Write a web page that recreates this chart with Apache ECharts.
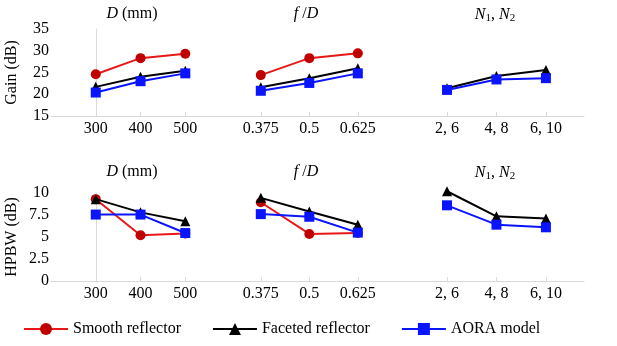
<!DOCTYPE html>
<html><head><meta charset="utf-8">
<script src="https://cdn.jsdelivr.net/npm/echarts@6/dist/echarts.min.js"></script>
<style>html,body{margin:0;padding:0;background:#fff}#c{width:617px;height:346px}</style>
</head><body><div id="c"></div>
<script>
// ---- data ----
const catD = ['300', '400', '500'];
const catFD = ['0.375', '0.5', '0.625'];
const catN = ['2, 6', '4, 8', '6, 10'];

const gainSmoothD = [24.6, 28.3, 29.3];
const gainFacetedD = [21.7, 24.0, 25.4];
const gainAoraD = [20.4, 23.0, 24.8];
const gainSmoothFD = [24.4, 28.3, 29.4];
const gainFacetedFD = [21.6, 23.7, 26.0];
const gainAoraFD = [20.8, 22.6, 24.8];
const gainFacetedN = [21.4, 24.2, 25.6];
const gainAoraN = [21.0, 23.4, 23.7];

const hpbwSmoothD = [9.3, 5.2, 5.4];
const hpbwFacetedD = [9.3, 7.8, 6.8];
const hpbwAoraD = [7.55, 7.55, 5.45];
const hpbwSmoothFD = [8.95, 5.35, 5.45];
const hpbwFacetedFD = [9.45, 7.9, 6.4];
const hpbwAoraFD = [7.6, 7.3, 5.5];
const hpbwFacetedN = [10.2, 7.35, 7.1];
const hpbwAoraN = [8.6, 6.4, 6.1];

const gainTicks = [15, 20, 25, 30, 35];
const hpbwTicks = [0, 2.5, 5, 7.5, 10];

const names = ['Smooth reflector', 'Faceted reflector', 'AORA model'];
// ---------------

const FONT = 'Liberation Serif';
const FS = 16;
const axisGrey = '#d9d9d9';
const chart = echarts.init(document.getElementById('c'));

const cols = [
  {left: 51, right: 617 - 222, min: -1.0, max: 2.82, cats: catD},
  {left: 222, right: 617 - 400, min: -0.80, max: 2.87, cats: catFD},
  {left: 400, right: 617 - 584, min: -0.95, max: 2.77, cats: catN}
];
const rows = [
  {top: 29, height: 87, min: 15, max: 35, interval: 5, name: 'Gain (dB)', ticks: gainTicks},
  {top: 193, height: 88, min: 0, max: 10, interval: 2.5, name: 'HPBW (dB)', ticks: hpbwTicks}
];

const grids = [], xAxes = [], yAxes = [];
rows.forEach((r, ri) => {
  cols.forEach((c, ci) => {
    grids.push({left: c.left, right: c.right, top: r.top, height: r.height});
    const cats = c.cats;
    xAxes.push({
      type: 'value', gridIndex: grids.length - 1, min: c.min, max: c.max,
      axisLine: {show: true, lineStyle: {color: axisGrey, width: 1}},
      axisTick: {show: true, customValues: [0, 1, 2], length: 4, inside: true, lineStyle: {color: axisGrey}},
      axisLabel: {customValues: [0, 1, 2], formatter: v => cats[Math.round(v)], color: '#000',
        fontFamily: FONT, fontSize: FS, margin: 5},
      splitLine: {show: false}
    });
    yAxes.push({
      type: 'value', gridIndex: grids.length - 1, min: r.min, max: r.max, interval: r.interval,
      show: ci === 0,
      name: ci === 0 ? r.name : '', nameLocation: 'middle', nameGap: 31,
      nameTextStyle: {fontFamily: FONT, fontSize: FS, color: '#000'},
      axisLine: {show: true, lineStyle: {color: axisGrey}},
      axisTick: {show: false},
      axisLabel: {color: '#000', fontFamily: FONT, fontSize: FS, margin: 2,
        customValues: r.ticks},
      splitLine: {show: false}
    });
  });
});

const styles = [
  {symbol: 'circle', symbolSize: 10, line: '#e81818', item: '#c00000'},
  {symbol: 'triangle', symbolSize: 10, line: '#000000', item: '#000000'},
  {symbol: 'rect', symbolSize: 10, line: '#0a14ff', item: '#0a14ff'}
];
const panels = [
  [gainSmoothD, gainFacetedD, gainAoraD],
  [gainSmoothFD, gainFacetedFD, gainAoraFD],
  [null, gainFacetedN, gainAoraN],
  [hpbwSmoothD, hpbwFacetedD, hpbwAoraD],
  [hpbwSmoothFD, hpbwFacetedFD, hpbwAoraFD],
  [null, hpbwFacetedN, hpbwAoraN]
];
const series = [];
panels.forEach((p, pi) => {
  p.forEach((vals, si) => {
    if (!vals) return;
    const s = styles[si];
    series.push({
      type: 'line', name: names[si], xAxisIndex: pi, yAxisIndex: pi,
      data: vals.map((v, i) => [i, v]),
      symbol: s.symbol, symbolSize: s.symbolSize, showSymbol: true, clip: false,
      lineStyle: {color: s.line, width: 2},
      itemStyle: {color: s.item},
      z: 2 + si, animation: false
    });
  });
});

const rich = {
  i: {fontStyle: 'italic', fontFamily: FONT, fontSize: FS, color: '#000'},
  n: {fontFamily: FONT, fontSize: FS, color: '#000'},
  s: {fontFamily: FONT, fontSize: 11, color: '#000', verticalAlign: 'bottom', padding: [7, 0, 0, 0]}
};
const titleTexts = ['{i|D}{n| (mm)}', '{i|f}{n| /}{i|D}', '{i|N}{s|1}{n|, }{i|N}{s|2}'];
const titleX = [132, 306, 495];
const titleY = [6, 164];
const titles = [];
titleY.forEach(y => titleTexts.forEach((t, i) => {
  titles.push({text: t, left: titleX[i], top: y, textAlign: 'center', padding: 0,
    textStyle: {rich: rich, fontFamily: FONT, fontSize: FS, fontWeight: 'normal'}});
}));

chart.setOption({
  animation: false,
  title: titles,
  grid: grids, xAxis: xAxes, yAxis: yAxes, series: series,
  legend: {
    data: names, left: 23, top: 321, padding: 0, itemWidth: 44, itemHeight: 15, itemGap: 31,
    textStyle: {fontFamily: FONT, fontSize: FS, color: '#000'}
  }
});
</script></body></html>
